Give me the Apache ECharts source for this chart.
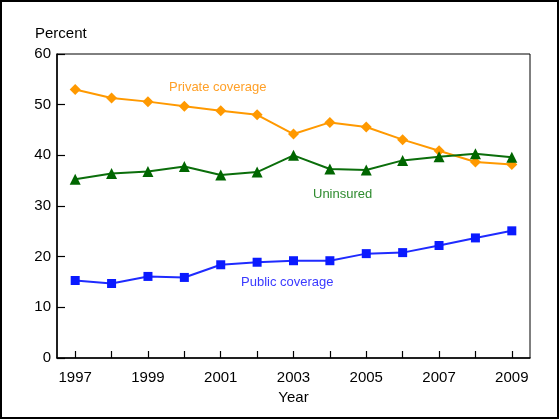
<!DOCTYPE html>
<html>
<head>
<meta charset="utf-8">
<script src="https://cdn.jsdelivr.net/npm/echarts@6/dist/echarts.min.js"></script>
<style>
  html, body { margin: 0; padding: 0; background: #fff; }
  #chart { width: 560px; height: 420px; }
</style>
</head>
<body>
<div id="chart"></div>
<script>
// Années (axe X)
const years = ['1997', '1998', '1999', '2000', '2001', '2002', '2003',
               '2004', '2005', '2006', '2007', '2008', '2009'];

// Pourcentages
const privateCoverage = [53.0, 51.3, 50.6, 49.7, 48.8, 48.0, 44.2, 46.5, 45.6, 43.1, 40.9, 38.7, 38.2];
const uninsured       = [35.3, 36.4, 36.8, 37.8, 36.1, 36.7, 40.0, 37.3, 37.1, 39.0, 39.7, 40.3, 39.6];
const publicCoverage  = [15.3, 14.7, 16.1, 15.9, 18.4, 18.9, 19.2, 19.2, 20.6, 20.8, 22.2, 23.7, 25.1];

const FONT = '"Liberation Sans", Arial, sans-serif';

const chart = echarts.init(document.getElementById('chart'));

chart.setOption({
    animation: false,
    backgroundColor: '#fff',
    textStyle: { fontFamily: FONT },
    title: {
        text: 'Percent',
        left: 30,
        top: 21,
        textStyle: { fontFamily: FONT, fontSize: 15, fontWeight: 'normal', color: '#000' }
    },
    grid: {
        left: 57, right: 30, top: 54, bottom: 62,
        show: true,
        borderColor: '#000',
        borderWidth: 1
    },
    xAxis: {
        type: 'category',
        data: years,
        boundaryGap: true,
        name: 'Year',
        nameLocation: 'middle',
        nameGap: 30,
        nameTextStyle: { fontFamily: FONT, fontSize: 15, color: '#000' },
        axisLine: { lineStyle: { color: '#000', width: 1.5 } },
        axisTick: { show: true, inside: true, length: 7, alignWithLabel: true, interval: 0,
                    lineStyle: { color: '#000', width: 1.2 } },
        axisLabel: { interval: 1, margin: 12, fontFamily: FONT, fontSize: 15, color: '#000' },
        splitLine: { show: false }
    },
    yAxis: {
        type: 'value',
        min: 0, max: 60, interval: 10,
        axisLine: { show: true, lineStyle: { color: '#000', width: 1.5 } },
        axisTick: { show: true, inside: true, length: 8, lineStyle: { color: '#000', width: 1.2 } },
        axisLabel: { margin: 6, fontFamily: FONT, fontSize: 15, color: '#000' },
        splitLine: { show: false }
    },
    series: [
        {
            name: 'Private coverage',
            type: 'line',
            data: privateCoverage,
            symbol: 'diamond',
            symbolSize: 11,
            lineStyle: { color: '#FF9900', width: 2 },
            itemStyle: { color: '#FF9900' }
        },
        {
            name: 'Uninsured',
            type: 'line',
            data: uninsured,
            symbol: 'triangle',
            symbolSize: 11,
            lineStyle: { color: '#0B6E0B', width: 2 },
            itemStyle: { color: '#006600' }
        },
        {
            name: 'Public coverage',
            type: 'line',
            data: publicCoverage,
            symbol: 'rect',
            symbolSize: 9,
            lineStyle: { color: '#1F2BFF', width: 2 },
            itemStyle: { color: '#0A1AFF' }
        }
    ],
    graphic: [
        // Cadre extérieur
        {
            type: 'rect',
            shape: { x: 1, y: 1, width: 557, height: 417 },
            style: { fill: 'none', stroke: '#000', lineWidth: 2 },
            silent: true
        },
        // Étiquettes des séries
        {
            type: 'text', left: 169, top: 81,
            style: { text: 'Private coverage', fill: '#FFA028', font: '13px ' + FONT }
        },
        {
            type: 'text', left: 313, top: 188,
            style: { text: 'Uninsured', fill: '#2E8B2E', font: '13px ' + FONT }
        },
        {
            type: 'text', left: 241, top: 276,
            style: { text: 'Public coverage', fill: '#3A3AFF', font: '13px ' + FONT }
        }
    ]
});

window.addEventListener('resize', function () {
    chart.resize();
});
</script>
</body>
</html>
